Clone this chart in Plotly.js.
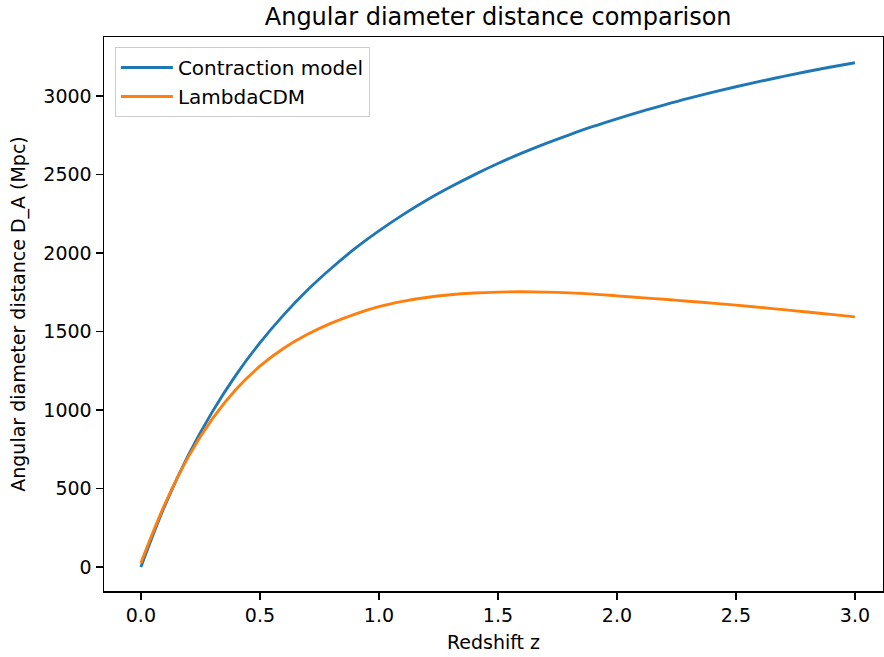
<!DOCTYPE html>
<html>
<head>
<meta charset="utf-8">
<script src="https://cdn.plot.ly/plotly-3.0.1.min.js"></script>
<style>html,body{margin:0;padding:0;background:#fff;}#chart{width:884px;height:657px;}</style>
</head>
<body>
<div id="chart"></div>
<script>
// Redshift grid and distances (Mpc)
const zContraction = [0.0,0.1,0.2,0.3,0.4,0.5,0.6,0.7,0.8,0.9,1.0,1.1,1.2,1.3,1.4,1.5,1.6,1.7,1.8,1.9,2.0,2.1,2.2,2.3,2.4,2.5,2.6,2.7,2.8,2.9,3.0];
const dContraction = [0,389,714,988,1224,1428,1606,1764,1903,2029,2141,2243,2336,2420,2498,2570,2636,2697,2753,2806,2855,2901,2944,2985,3023,3059,3093,3125,3156,3185,3212];

const zLCDM = [0.0,0.1,0.2,0.3,0.4,0.5,0.6,0.7,0.8,0.9,1.0,1.1,1.2,1.3,1.4,1.5,1.6,1.7,1.8,1.9,2.0,2.1,2.2,2.3,2.4,2.5,2.6,2.7,2.8,2.9,3.0];
const dLCDM = [25,398,703,943,1132,1279,1393,1482,1553,1611,1658,1692,1717,1734,1745,1751,1753,1751,1746,1738,1727,1716,1705,1693,1681,1668,1654,1639,1624,1609,1593];

const seriesNames = ["Contraction model", "LambdaCDM"];
const xTicks = [0.0,0.5,1.0,1.5,2.0,2.5,3.0];
const xTickText = ["0.0","0.5","1.0","1.5","2.0","2.5","3.0"];
const yTicks = [0,500,1000,1500,2000,2500,3000];

const font = "DejaVu Sans, Verdana, sans-serif";

const traces = [
  {x: zContraction, y: dContraction, name: seriesNames[0], mode: "lines",
   line: {color: "#1f77b4", width: 2.9, shape: "spline", smoothing: 1}},
  {x: zLCDM, y: dLCDM, name: seriesNames[1], mode: "lines",
   line: {color: "#ff7f0e", width: 2.9, shape: "spline", smoothing: 1}}
];

const layout = {
  width: 884, height: 657,
  margin: {l: 104, r: 1, t: 37, b: 66},
  paper_bgcolor: "#fff", plot_bgcolor: "#fff",
  font: {family: font, size: 19, color: "#000"},
  title: {text: "Angular diameter distance comparison", font: {family: font, size: 24, color: "#000"},
          x: 0.506, xref: "paper", y: 1 - 17/657, yref: "container", yanchor: "middle"},
  xaxis: {
    range: [-0.155, 3.118], tickvals: xTicks, ticktext: xTickText,
    showgrid: false, zeroline: false, showline: true, linecolor: "#000", linewidth: 1.5, mirror: true,
    ticks: "outside", ticklen: 7, tickwidth: 1.5, tickcolor: "#000",
    tickfont: {family: font, size: 19},
    title: {text: "Redshift z", font: {family: font, size: 19}, standoff: 10},
    automargin: false
  },
  yaxis: {
    range: [-153, 3376], tickvals: yTicks,
    showgrid: false, zeroline: false, showline: true, linecolor: "#000", linewidth: 1.5, mirror: true,
    ticks: "outside", ticklen: 7, tickwidth: 1.5, tickcolor: "#000",
    tickfont: {family: font, size: 19},
    title: {text: "Angular diameter distance D_A (Mpc)", font: {family: font, size: 19}, standoff: 12},
    automargin: false
  },
  showlegend: true,
  legend: {x: 0.014, y: 0.982, xanchor: "left", yanchor: "top",
           bgcolor: "rgba(255,255,255,0.8)", bordercolor: "#cccccc", borderwidth: 1,
           itemwidth: 52,
           font: {family: font, size: 20}}
};

Plotly.newPlot("chart", traces, layout, {staticPlot: true, displayModeBar: false});
</script>
</body>
</html>
